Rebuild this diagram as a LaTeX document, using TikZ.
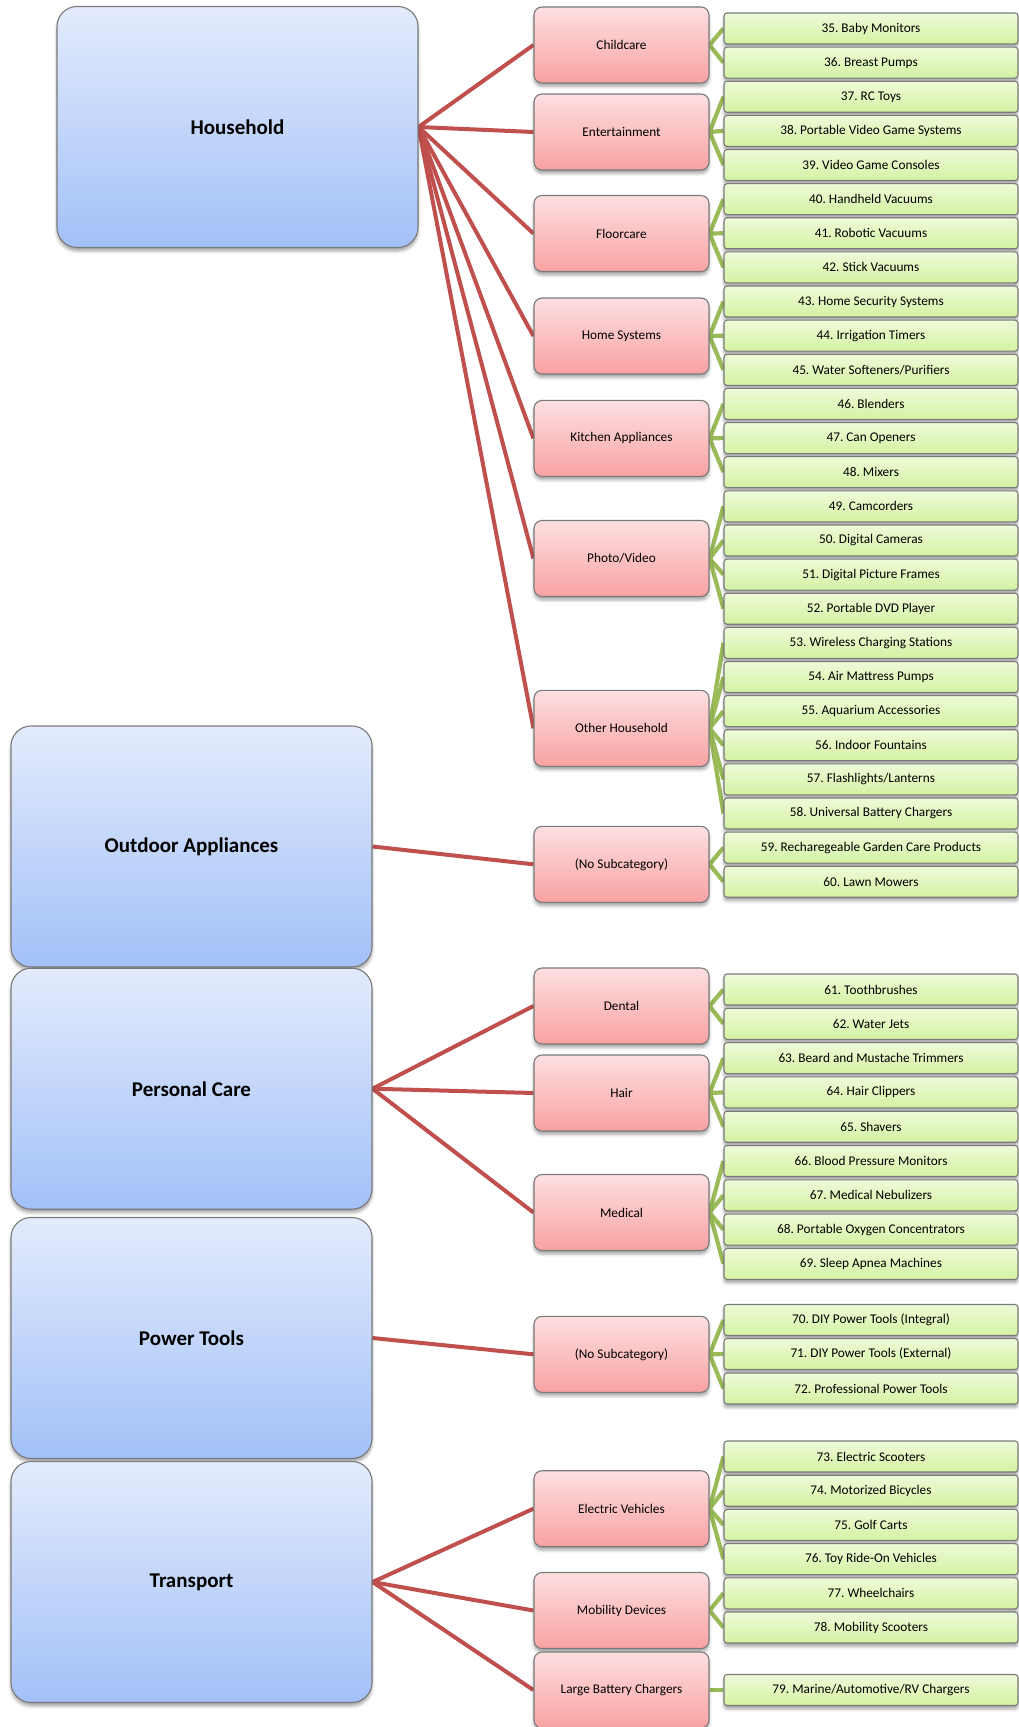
\documentclass[tikz,border=0pt]{standalone}
\usepackage{fontspec}
\setmainfont{Carlito}
\usetikzlibrary{shadows,shadows.blur,backgrounds}
\frenchspacing

\definecolor{blueT}{HTML}{E3EBFC}
\definecolor{blueB}{HTML}{A2C1F8}
\definecolor{redT}{HTML}{FDDFE1}
\definecolor{redB}{HTML}{F9A2A2}
\definecolor{greenT}{HTML}{EEFBD9}
\definecolor{greenB}{HTML}{D4F2A2}
\definecolor{edgegray}{HTML}{7A7A7A}
\definecolor{linkred}{HTML}{C0504D}
\definecolor{linkgreen}{HTML}{9BBB59}

\tikzset{
  boxbase/.style={draw=edgegray, line width=1.1pt, inner sep=2pt, align=center,
    blur shadow={shadow xshift=0pt, shadow yshift=-3.5pt, shadow blur radius=3pt, shadow opacity=35}},
  catbox/.style={boxbase, rounded corners=20pt, minimum width=361pt, minimum height=241pt,
    top color=blueT, bottom color=blueB, font=\bfseries\fontsize{21}{25}\selectfont},
  subbox/.style={boxbase, rounded corners=8pt, minimum width=175pt, minimum height=76pt,
    top color=redT, bottom color=redB, font=\fontsize{13.3}{16}\selectfont},
  itembox/.style={boxbase, rounded corners=3pt, minimum width=294pt, minimum height=31pt,
    top color=greenT, bottom color=greenB, font=\fontsize{13.3}{16}\selectfont},
  catlink/.style={draw=linkred, line width=4pt},
  itemlink/.style={draw=linkgreen, line width=4.2pt}
}

\begin{document}
\begin{tikzpicture}[x=1pt, y=-1pt]
\useasboundingbox (0,0) rectangle (1019,1727);

% top-level categories
\node[catbox] (household) at (237.5,127)  {Household};
\node[catbox] (outdoor)   at (191.5,846.5) {Outdoor Appliances};
\node[catbox] (personal)  at (191.5,1088.7) {Personal Care};
\node[catbox] (power)     at (191.5,1338)  {Power Tools};
\node[catbox] (transport) at (191.5,1582)  {Transport};

% subcategories
\node[subbox] (childcare) at (621.5,45)    {Childcare};
\node[subbox] (entertain) at (621.5,132)   {Entertainment};
\node[subbox] (floorcare) at (621.5,233.5) {Floorcare};
\node[subbox] (homesys)   at (621.5,336)   {Home Systems};
\node[subbox] (kitchen)   at (621.5,438.4) {Kitchen Appliances};
\node[subbox] (photo)     at (621.5,558.5) {Photo/Video};
\node[subbox] (otherhh)   at (621.5,728.3) {Other Household};
\node[subbox] (outnone)   at (621.5,864.3) {(No Subcategory)};
\node[subbox] (dental)    at (621.5,1006)  {Dental};
\node[subbox] (hair)      at (621.5,1093)  {Hair};
\node[subbox] (medical)   at (621.5,1212.5) {Medical};
\node[subbox] (pownone)   at (621.5,1354.3) {(No Subcategory)};
\node[subbox] (evehicle)  at (621.5,1508.7) {Electric Vehicles};
\node[subbox] (mobility)  at (621.5,1610.5) {Mobility Devices};
\node[subbox] (charger)   at (621.5,1690)  {Large Battery Chargers};

% products
\foreach \n/\txt [count=\i from 0] in {
  35/Baby Monitors, 36/Breast Pumps, 37/RC Toys, 38/Portable Video Game Systems,
  39/Video Game Consoles, 40/Handheld Vacuums, 41/Robotic Vacuums, 42/Stick Vacuums,
  43/Home Security Systems, 44/Irrigation Timers, 45/Water Softeners\slash Purifiers,
  46/Blenders, 47/Can Openers, 48/Mixers, 49/Camcorders, 50/Digital Cameras,
  51/Digital Picture Frames, 52/Portable DVD Player, 53/Wireless Charging Stations,
  54/Air Mattress Pumps, 55/Aquarium Accessories, 56/Indoor Fountains,
  57/Flashlights\slash Lanterns, 58/Universal Battery Chargers,
  59/Recharegeable Garden Care Products, 60/Lawn Mowers}
  \node[itembox] (p\n) at (871, 28.5+34.13*\i) {\n. \txt};

\foreach \n/\txt [count=\i from 0] in {
  61/Toothbrushes, 62/Water Jets, 63/Beard and Mustache Trimmers, 64/Hair Clippers,
  65/Shavers, 66/Blood Pressure Monitors, 67/Medical Nebulizers,
  68/Portable Oxygen Concentrators, 69/Sleep Apnea Machines}
  \node[itembox] (p\n) at (871, 989.5+34.3*\i) {\n. \txt};

\node[itembox] (p70) at (871,1320)   {70. DIY Power Tools (Integral)};
\node[itembox] (p71) at (871,1354)   {71. DIY Power Tools (External)};
\node[itembox] (p72) at (871,1388.5) {72. Professional Power Tools};

\foreach \n/\txt [count=\i from 0] in {
  73/Electric Scooters, 74/Motorized Bicycles, 75/Golf Carts,
  76/Toy Ride-On Vehicles, 77/Wheelchairs, 78/Mobility Scooters}
  \node[itembox] (p\n) at (871, 1456.5+34.2*\i) {\n. \txt};

\node[itembox] (p79) at (871,1690) {79. Marine/Automotive/RV Chargers};

\begin{pgfonlayer}{background}
  % category -> subcategory
  \foreach \s in {childcare,entertain,floorcare,homesys,kitchen,photo,otherhh}
    \draw[catlink] (household.east) -- (\s.west);
  \draw[catlink] (outdoor.east) -- (outnone.west);
  \foreach \s in {dental,hair,medical}
    \draw[catlink] (personal.east) -- (\s.west);
  \draw[catlink] (power.east) -- (pownone.west);
  \foreach \s in {evehicle,mobility,charger}
    \draw[catlink] (transport.east) -- (\s.west);

  % subcategory -> product
  \foreach \s/\list in {childcare/{35,36}, entertain/{37,38,39}, floorcare/{40,41,42},
      homesys/{43,44,45}, kitchen/{46,47,48}, photo/{49,50,51,52},
      otherhh/{53,54,55,56,57,58}, outnone/{59,60}, dental/{61,62},
      hair/{63,64,65}, medical/{66,67,68,69}, pownone/{70,71,72},
      evehicle/{73,74,75,76}, mobility/{77,78}, charger/{79}}
    \foreach \p in \list
      \draw[itemlink] (\s.east) -- (p\p.west);
\end{pgfonlayer}
\end{tikzpicture}
\end{document}
